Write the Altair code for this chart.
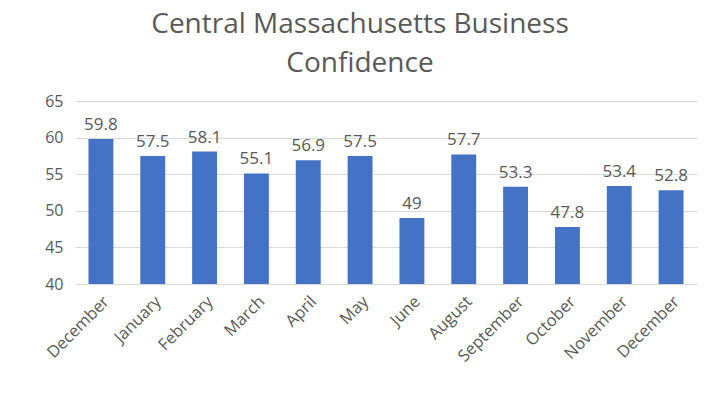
import altair as alt
import pandas as pd

months = ["December", "January", "February", "March", "April", "May", "June",
          "August", "September", "October", "November", "December"]
values = [59.8, 57.5, 58.1, 55.1, 56.9, 57.5, 49, 57.7, 53.3, 47.8, 53.4, 52.8]
y_ticks = [40, 45, 50, 55, 60, 65]

df = pd.DataFrame({
    "idx": list(range(len(months))),
    "month": months,
    "value": values,
    "label": [("%g" % v) for v in values],
})

label_map = "{" + ",".join("'%d':'%s'" % (i, m) for i, m in enumerate(months)) + "}"

FONT = "Open Sans"
GRAY = "#595959"

x = alt.X("idx:O", title=None,
          scale=alt.Scale(paddingInner=0.52, paddingOuter=0.26),
          axis=alt.Axis(labelExpr=label_map + "[datum.value]", labelAngle=-45,
                        labelAlign="right", labelBaseline="top", labelPadding=9,
                        labelFontSize=16.5, labelColor=GRAY, labelFont=FONT,
                        labelOverlap=False, ticks=False, domain=False, grid=False))
y = alt.Y("value:Q", title=None,
          scale=alt.Scale(domain=[40, 65], nice=False, zero=False),
          axis=alt.Axis(values=y_ticks, labelFontSize=16,
                        labelColor=GRAY, labelFont=FONT, labelPadding=12,
                        labelOverlap=False, ticks=False, domain=False,
                        gridColor="#d9d9d9", gridWidth=1))

base = alt.Chart(df).encode(x=x, y=y)
bars = base.mark_bar(color="#4472C4").encode(y2=alt.datum(40))
text = base.mark_text(baseline="bottom", dy=-5, fontSize=17, color=GRAY, font=FONT).encode(
    text="label:N")

chart = (bars + text).properties(
    width=622, height=183,
    autosize=alt.AutoSizeParams(type="none"),
    padding={"left": 67, "top": 93, "right": 15, "bottom": 100},
    background="white",
    title=alt.TitleParams(["Central Massachusetts Business", "Confidence"],
                          fontSize=28, font=FONT, fontWeight="normal", color=GRAY,
                          anchor="middle", dx=-26, lineHeight=39, offset=15),
).configure_view(strokeWidth=0)

chart.save("out.html", embed_options={"renderer": "svg", "actions": False})
